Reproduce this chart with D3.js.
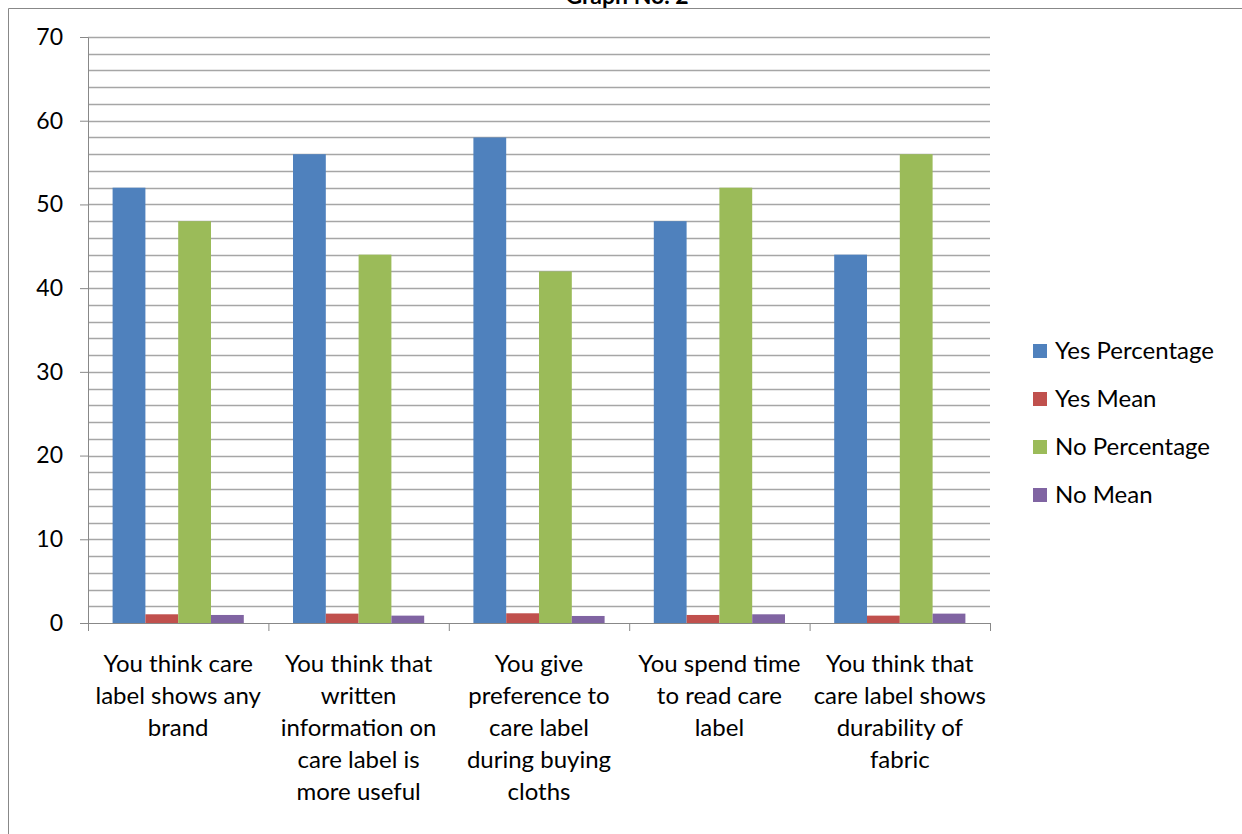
<!DOCTYPE html>
<html>
<head>
<meta charset="utf-8">
<script src="https://cdn.jsdelivr.net/npm/d3@7"></script>
<style>
  body { margin: 0; background: #fff; }
  text { font-family: Lato, "Liberation Sans", sans-serif; }
</style>
</head>
<body>
<script>
var categories = [
  ["You think care", "label shows any", "brand"],
  ["You think that", "written", "information on", "care label is", "more useful"],
  ["You give", "preference to", "care label", "during buying", "cloths"],
  ["You spend time", "to read care", "label"],
  ["You think that", "care label shows", "durability of", "fabric"]
];
var seriesNames = ["Yes Percentage", "Yes Mean", "No Percentage", "No Mean"];
var yesPercentage = [52, 56, 58, 48, 44];
var yesMean = [1.04, 1.12, 1.16, 0.96, 0.88];
var noPercentage = [48, 44, 42, 52, 56];
var noMean = [0.96, 0.88, 0.84, 1.04, 1.12];
var colors = ["#4f81bd", "#c0504d", "#9bbb59", "#8064a2"];
var yTicks = [0, 10, 20, 30, 40, 50, 60, 70];

var series = [yesPercentage, yesMean, noPercentage, noMean];

var margin = {top: 37, left: 88},
  width = 990 - 88,
  height = 623 - 37;

var svg = d3.select("body").append("svg")
  .attr("width", 1242)
  .attr("height", 834);

// outer chart border
svg.append("path")
  .attr("d", "M8.5,840 V8.5 H1250")
  .attr("fill", "none")
  .attr("stroke", "#888")
  .attr("stroke-width", 1);

// title sits mostly above the page edge, like the original
svg.append("text")
  .attr("x", 627)
  .attr("y", 4)
  .attr("text-anchor", "middle")
  .style("font-size", "23px")
  .style("font-weight", "bold")
  .text("Graph No. 2");

var g = svg.append("g")
  .attr("transform", "translate(" + margin.left + "," + margin.top + ")");

var x0 = d3.scaleBand()
  .domain(d3.range(categories.length))
  .range([0, width]);

var x1 = d3.scaleBand()
  .domain(d3.range(seriesNames.length))
  .range([0, x0.bandwidth()])
  .paddingOuter(0.75)
  .paddingInner(0);

var y = d3.scaleLinear().domain([0, 70]).range([height, 0]);

// gridlines every 2
g.selectAll(".grid")
  .data(d3.range(2, 71, 2))
  .enter().append("line")
  .attr("x1", 0)
  .attr("x2", width)
  .attr("y1", function (d) { return Math.round(y(d)) + 0.5; })
  .attr("y2", function (d) { return Math.round(y(d)) + 0.5; })
  .attr("stroke", "#a6a6a6")
  .attr("stroke-width", 1.3);

// bars
var groups = g.selectAll(".cat")
  .data(categories)
  .enter().append("g")
  .attr("transform", function (d, i) { return "translate(" + x0(i) + ",0)"; });

groups.selectAll("rect")
  .data(function (d, i) { return series.map(function (s, k) { return {k: k, v: s[i]}; }); })
  .enter().append("rect")
  .attr("x", function (d) { return x1(d.k); })
  .attr("width", x1.bandwidth())
  .attr("y", function (d) { return y(d.v); })
  .attr("height", function (d) { return height - y(d.v); })
  .attr("fill", function (d) { return colors[d.k]; });

// y axis
var yAxis = d3.axisLeft(y).tickValues(yTicks).tickSize(8).tickPadding(17);
var ya = g.append("g").call(yAxis);
ya.select(".domain").attr("stroke", "#888").attr("d", "M0.5," + (height + 8) + "V0.5");
ya.selectAll(".tick line").attr("stroke", "#888");
ya.selectAll("text")
  .style("font-size", "23px")
  .attr("fill", "#000")
  .style("font-family", "Lato, 'Liberation Sans', sans-serif");

// x axis
var xb = d3.scaleLinear().domain([0, categories.length]).range([0, width]);
var xAxis = d3.axisBottom(xb).tickValues(d3.range(0, categories.length + 1)).tickSize(8).tickFormat("");
var xa = g.append("g").attr("transform", "translate(0," + height + ")").call(xAxis);
xa.select(".domain").attr("stroke", "#888").attr("d", "M0," + 0.5 + "H" + width);
xa.selectAll(".tick line").attr("stroke", "#888");

// category labels
groups.append("text")
  .attr("text-anchor", "middle")
  .attr("fill", "#000")
  .style("font-size", "24px")
  .selectAll("tspan")
  .data(function (d) { return d; })
  .enter().append("tspan")
  .attr("x", x0.bandwidth() / 2)
  .attr("y", function (d, i) { return height + 49 + i * 32; })
  .text(function (d) { return d; });

// legend
var legend = svg.append("g").attr("transform", "translate(1033,351)");
var items = legend.selectAll("g")
  .data(seriesNames)
  .enter().append("g")
  .attr("transform", function (d, i) { return "translate(0," + (i * 48) + ")"; });
items.append("rect")
  .attr("x", 0).attr("y", -7)
  .attr("width", 14).attr("height", 14)
  .attr("fill", function (d, i) { return colors[i]; });
items.append("text")
  .attr("x", 22)
  .attr("y", 8)
  .attr("fill", "#000")
  .style("font-size", "24px")
  .text(function (d) { return d; });
</script>
</body>
</html>
